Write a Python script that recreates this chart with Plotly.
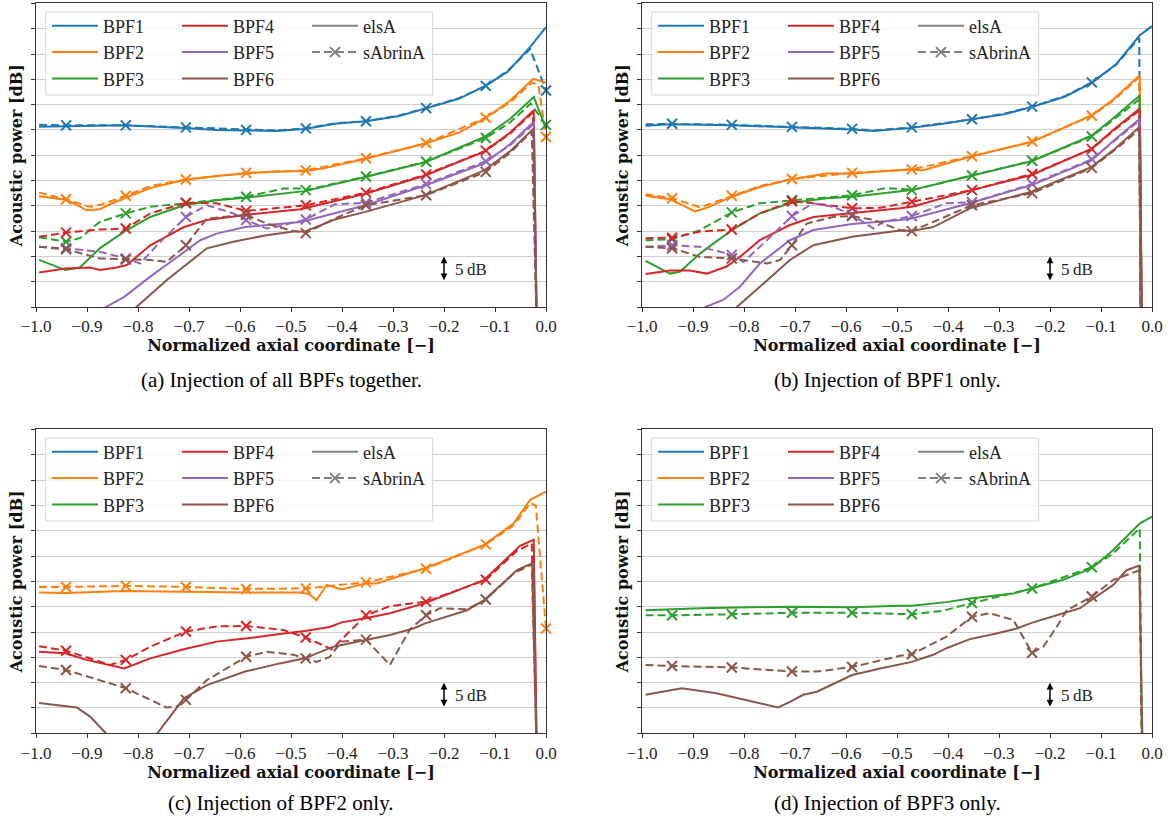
import plotly.graph_objects as go

W, H = 1171, 824

# ---------------- data (x: normalized axial coordinate, y: acoustic power, dB, arbitrary offset) -------------
MARK_X = [-0.941, -0.824, -0.706, -0.588, -0.471, -0.353, -0.235, -0.118, 0.0]
X_TICKS = [-1.0, -0.9, -0.8, -0.7, -0.6, -0.5, -0.4, -0.3, -0.2, -0.1, 0.0]
X_TICK_TEXT = ["\u22121.0", "\u22120.9", "\u22120.8", "\u22120.7", "\u22120.6", "\u22120.5",
               "\u22120.4", "\u22120.3", "\u22120.2", "\u22120.1", "0.0"]
Y_TICKS = [0, 5, 10, 15, 20, 25, 30, 35, 40, 45, 50, 55, 60]

# (a) Injection of all BPFs together
A_BPF1_ELSA = [(-0.994, 35.6), (-0.942, 35.7), (-0.827, 35.9), (-0.71, 35.4), (-0.646, 35.0), (-0.59, 34.9),
               (-0.53, 34.8), (-0.473, 35.2), (-0.414, 36.2), (-0.354, 36.7), (-0.29, 37.7), (-0.237, 39.2),
               (-0.17, 41.2), (-0.121, 43.6), (-0.075, 46.5), (-0.031, 51.4), (0.0, 55.3)]
A_BPF1_SAB = [(-0.994, 36.0), (-0.941, 35.9), (-0.824, 35.9), (-0.706, 35.5), (-0.588, 35.0), (-0.53, 34.9),
              (-0.471, 35.3), (-0.414, 36.3), (-0.353, 36.7), (-0.29, 37.8), (-0.235, 39.3), (-0.17, 41.3),
              (-0.118, 43.7), (-0.075, 46.7), (-0.031, 51.0), (0.0, 42.8)]
A_BPF2_ELSA = [(-0.994, 21.9), (-0.942, 21.2), (-0.92, 20.2), (-0.901, 19.1), (-0.875, 19.3), (-0.855, 20.3),
               (-0.827, 21.5), (-0.776, 23.5), (-0.71, 25.1), (-0.646, 25.9), (-0.59, 26.4), (-0.53, 26.8),
               (-0.473, 26.9), (-0.44, 27.3), (-0.354, 29.3), (-0.237, 32.3), (-0.17, 34.5), (-0.121, 37.2),
               (-0.07, 40.8), (-0.025, 45.1), (0.0, 44.3)]
A_BPF2_SAB = [(-0.994, 22.6), (-0.941, 21.3), (-0.894, 19.8), (-0.87, 20.3), (-0.824, 22.0), (-0.776, 23.9),
              (-0.706, 25.2), (-0.588, 26.5), (-0.471, 27.0), (-0.353, 29.4), (-0.235, 32.4), (-0.118, 37.4),
              (-0.07, 40.5), (-0.028, 44.3), (-0.015, 44.0), (0.0, 33.6)]
A_BPF3_ELSA = [(-0.994, 9.3), (-0.942, 7.3), (-0.914, 7.8), (-0.875, 11.6), (-0.827, 14.9), (-0.776, 17.8),
               (-0.71, 20.1), (-0.646, 21.1), (-0.59, 21.6), (-0.53, 22.2), (-0.473, 22.9), (-0.354, 25.7),
               (-0.237, 28.6), (-0.121, 33.6), (-0.07, 37.2), (-0.024, 41.5), (0.0, 35.3)]
A_BPF3_SAB = [(-0.994, 13.8), (-0.941, 12.9), (-0.914, 13.6), (-0.875, 16.8), (-0.824, 18.5), (-0.776, 19.8),
              (-0.706, 20.5), (-0.646, 21.1), (-0.588, 21.8), (-0.515, 23.4), (-0.482, 23.4), (-0.471, 23.1),
              (-0.353, 25.8), (-0.235, 28.7), (-0.118, 33.4), (-0.07, 36.5), (-0.03, 40.2), (0.0, 36.0)]
A_BPF4_ELSA = [(-0.994, 6.8), (-0.942, 7.6), (-0.894, 7.8), (-0.875, 7.3), (-0.842, 7.8), (-0.822, 8.3),
               (-0.776, 12.2), (-0.71, 15.8), (-0.665, 17.2), (-0.59, 18.2), (-0.482, 19.3), (-0.473, 19.5),
               (-0.354, 22.4), (-0.237, 26.0), (-0.121, 30.7), (-0.07, 34.5), (-0.024, 38.9), (-0.018, -5.0)]
A_BPF4_SAB = [(-0.994, 13.9), (-0.941, 14.7), (-0.875, 15.3), (-0.824, 15.5), (-0.776, 18.5), (-0.706, 20.6),
              (-0.646, 20.5), (-0.588, 19.0), (-0.522, 19.6), (-0.471, 20.1), (-0.353, 22.6), (-0.235, 26.2),
              (-0.118, 30.9), (-0.07, 34.3), (-0.026, 38.4), (-0.018, -5.0)]
A_BPF5_ELSA = [(-0.88, -1.5), (-0.863, 0.0), (-0.827, 2.0), (-0.776, 6.0), (-0.731, 9.3), (-0.678, 13.2),
               (-0.646, 14.5), (-0.59, 15.8), (-0.482, 16.8), (-0.473, 17.0), (-0.354, 20.1), (-0.237, 24.0),
               (-0.121, 28.4), (-0.07, 32.2), (-0.024, 36.6), (-0.018, -5.0)]
A_BPF5_SAB = [(-0.994, 11.9), (-0.941, 11.6), (-0.875, 10.9), (-0.824, 9.6), (-0.796, 8.6), (-0.76, 12.5),
              (-0.706, 17.8), (-0.665, 20.1), (-0.613, 18.5), (-0.588, 17.2), (-0.548, 15.5), (-0.522, 16.0),
              (-0.471, 17.3), (-0.414, 20.3), (-0.353, 20.6), (-0.235, 24.3), (-0.118, 28.8), (-0.07, 32.0),
              (-0.026, 36.0), (-0.018, -5.0)]
A_BPF6_ELSA = [(-0.815, -1.5), (-0.803, 0.0), (-0.744, 5.3), (-0.71, 8.0), (-0.665, 11.6), (-0.613, 12.9),
               (-0.548, 14.2), (-0.495, 14.9), (-0.473, 14.9), (-0.414, 17.3), (-0.354, 18.8), (-0.237, 22.1),
               (-0.121, 27.0), (-0.07, 30.8), (-0.024, 35.3), (-0.018, -5.0)]
A_BPF6_SAB = [(-0.994, 11.9), (-0.941, 11.4), (-0.875, 9.6), (-0.824, 9.4), (-0.776, 9.3), (-0.744, 8.9),
              (-0.706, 12.2), (-0.665, 17.5), (-0.588, 18.2), (-0.548, 16.5), (-0.502, 15.2), (-0.471, 14.6),
              (-0.414, 17.5), (-0.353, 20.1), (-0.235, 22.1), (-0.118, 26.7), (-0.07, 30.5), (-0.028, 34.7),
              (-0.018, -5.0)]

# (b) Injection of BPF1 only
B_BPF1_ELSA = [(-0.993, 35.8), (-0.945, 36.1), (-0.824, 35.9), (-0.71, 35.5), (-0.588, 35.1), (-0.546, 34.8),
               (-0.471, 35.4), (-0.41, 36.2), (-0.357, 37.0), (-0.29, 38.1), (-0.236, 39.5), (-0.17, 41.6),
               (-0.118, 44.3), (-0.07, 48.0), (-0.024, 53.7), (0.0, 55.5)]
B_BPF1_SAB = [(-0.993, 36.1), (-0.941, 36.2), (-0.824, 36.0), (-0.706, 35.6), (-0.588, 35.2), (-0.546, 34.9),
              (-0.471, 35.5), (-0.41, 36.3), (-0.353, 37.1), (-0.29, 38.2), (-0.235, 39.6), (-0.17, 41.7),
              (-0.118, 44.4), (-0.07, 47.9), (-0.025, 53.2), (-0.022, -5.0)]
B_BPF2_ELSA = [(-0.993, 22.0), (-0.945, 21.3), (-0.896, 18.9), (-0.873, 19.6), (-0.824, 21.8), (-0.769, 23.7),
               (-0.71, 25.2), (-0.638, 26.4), (-0.588, 26.4), (-0.494, 27.0), (-0.471, 27.2), (-0.45, 27.0),
               (-0.357, 29.7), (-0.236, 32.6), (-0.118, 37.9), (-0.076, 41.0), (-0.024, 45.8), (-0.02, -5.0)]
B_BPF2_SAB = [(-0.993, 22.3), (-0.941, 21.5), (-0.886, 19.7), (-0.824, 22.0), (-0.769, 23.9), (-0.706, 25.3),
              (-0.588, 26.5), (-0.471, 27.2), (-0.353, 29.8), (-0.235, 32.7), (-0.118, 37.8), (-0.076, 40.8),
              (-0.025, 45.4), (-0.022, -5.0)]
B_BPF3_ELSA = [(-0.993, 9.1), (-0.945, 6.6), (-0.925, 7.0), (-0.886, 10.6), (-0.824, 15.2), (-0.769, 18.5),
               (-0.71, 20.5), (-0.638, 21.5), (-0.588, 21.8), (-0.494, 22.8), (-0.471, 23.1), (-0.357, 25.9),
               (-0.236, 28.8), (-0.118, 33.9), (-0.076, 37.3), (-0.024, 41.8), (-0.02, -5.0)]
B_BPF3_SAB = [(-0.993, 13.2), (-0.941, 13.4), (-0.886, 15.2), (-0.824, 18.7), (-0.769, 20.5), (-0.706, 21.1),
              (-0.588, 22.1), (-0.527, 23.4), (-0.494, 23.4), (-0.471, 23.1), (-0.353, 26.0), (-0.235, 28.9),
              (-0.118, 33.7), (-0.076, 37.0), (-0.025, 41.0), (-0.022, -5.0)]
B_BPF4_ELSA = [(-0.993, 6.5), (-0.945, 7.2), (-0.906, 7.2), (-0.873, 6.6), (-0.834, 8.0), (-0.808, 9.9),
               (-0.769, 13.2), (-0.71, 16.2), (-0.664, 17.8), (-0.588, 18.5), (-0.494, 19.5), (-0.471, 19.8),
               (-0.357, 23.0), (-0.236, 26.1), (-0.118, 31.3), (-0.076, 35.0), (-0.024, 39.2), (-0.02, -5.0)]
B_BPF4_SAB = [(-0.993, 13.6), (-0.941, 13.7), (-0.886, 14.9), (-0.824, 15.3), (-0.769, 18.5), (-0.706, 20.9),
              (-0.664, 20.5), (-0.588, 19.5), (-0.533, 19.6), (-0.471, 20.8), (-0.403, 22.0), (-0.353, 23.1),
              (-0.235, 26.3), (-0.118, 31.2), (-0.076, 34.8), (-0.025, 38.8), (-0.022, -5.0)]
B_BPF5_ELSA = [(-0.89, -1.5), (-0.876, 0.0), (-0.841, 1.4), (-0.808, 4.0), (-0.769, 8.6), (-0.71, 13.2),
               (-0.664, 15.2), (-0.588, 16.4), (-0.494, 17.2), (-0.471, 17.5), (-0.357, 20.5), (-0.236, 24.1),
               (-0.118, 29.0), (-0.076, 32.8), (-0.024, 37.2), (-0.02, -5.0)]
B_BPF5_SAB = [(-0.993, 11.9), (-0.941, 12.2), (-0.886, 11.9), (-0.824, 10.3), (-0.801, 8.9), (-0.755, 13.2),
              (-0.706, 18.0), (-0.664, 20.5), (-0.625, 19.8), (-0.588, 18.2), (-0.546, 15.5), (-0.527, 16.8),
              (-0.471, 18.0), (-0.403, 20.5), (-0.353, 20.7), (-0.235, 24.3), (-0.118, 29.2), (-0.076, 32.6),
              (-0.025, 36.8), (-0.022, -5.0)]
B_BPF6_ELSA = [(-0.826, -1.5), (-0.814, 0.0), (-0.769, 4.0), (-0.71, 9.3), (-0.664, 12.2), (-0.588, 13.9),
               (-0.494, 15.1), (-0.471, 15.0), (-0.429, 15.8), (-0.357, 19.5), (-0.236, 22.8), (-0.118, 27.7),
               (-0.076, 31.0), (-0.024, 35.6), (-0.02, -5.0)]
B_BPF6_SAB = [(-0.993, 11.9), (-0.941, 11.6), (-0.886, 9.9), (-0.824, 9.6), (-0.755, 8.6), (-0.729, 9.3),
              (-0.706, 12.2), (-0.677, 16.5), (-0.625, 17.8), (-0.588, 18.0), (-0.546, 17.2), (-0.494, 15.2),
              (-0.471, 15.0), (-0.353, 20.1), (-0.235, 22.5), (-0.118, 27.5), (-0.076, 30.8), (-0.025, 35.0),
              (-0.022, -5.0)]

# (c) Injection of BPF2 only
C_BPF2_ELSA = [(-0.994, 27.8), (-0.942, 27.7), (-0.827, 28.1), (-0.71, 27.9), (-0.59, 27.8), (-0.482, 27.8),
               (-0.465, 27.5), (-0.45, 26.3), (-0.43, 29.3), (-0.401, 28.4), (-0.354, 29.6), (-0.332, 29.6),
               (-0.237, 32.6), (-0.121, 37.2), (-0.064, 41.4), (-0.031, 46.1), (0.0, 47.7)]
C_BPF2_SAB = [(-0.994, 28.9), (-0.941, 28.9), (-0.824, 29.1), (-0.706, 28.9), (-0.588, 28.5), (-0.471, 28.6),
              (-0.353, 29.8), (-0.235, 32.5), (-0.118, 37.3), (-0.064, 41.0), (-0.031, 45.4), (-0.02, 45.0),
              (0.0, 20.7)]
C_BPF4_ELSA = [(-0.994, 16.1), (-0.942, 15.8), (-0.901, 14.5), (-0.827, 12.8), (-0.776, 14.8), (-0.71, 16.6),
               (-0.646, 18.1), (-0.59, 18.7), (-0.522, 19.6), (-0.473, 20.2), (-0.424, 21.0), (-0.401, 21.9),
               (-0.354, 22.7), (-0.306, 23.7), (-0.237, 25.7), (-0.121, 30.3), (-0.051, 37.0), (-0.024, 38.2),
               (-0.018, -5.0)]
C_BPF4_SAB = [(-0.994, 17.2), (-0.941, 16.3), (-0.855, 13.5), (-0.824, 14.5), (-0.776, 17.1), (-0.706, 20.1),
              (-0.646, 21.1), (-0.588, 21.2), (-0.515, 20.4), (-0.471, 18.9), (-0.42, 16.6), (-0.353, 23.3),
              (-0.306, 25.1), (-0.235, 26.0), (-0.118, 30.3), (-0.057, 36.0), (-0.028, 37.5), (-0.018, -5.0)]
C_BPF6_ELSA = [(-0.994, 6.0), (-0.942, 5.4), (-0.92, 5.1), (-0.894, 3.3), (-0.863, 0.0), (-0.81, -4.0),
               (-0.762, 0.0), (-0.71, 6.9), (-0.665, 9.5), (-0.59, 12.2), (-0.522, 13.8), (-0.473, 14.8),
               (-0.417, 17.1), (-0.354, 18.4), (-0.306, 19.4), (-0.26, 20.7), (-0.237, 21.7), (-0.155, 24.3),
               (-0.121, 26.3), (-0.057, 32.2), (-0.031, 33.5), (-0.024, 33.7), (-0.018, -5.0)]
C_BPF6_SAB = [(-0.994, 13.3), (-0.941, 12.5), (-0.824, 8.9), (-0.776, 6.6), (-0.744, 5.1), (-0.724, 5.3),
              (-0.706, 6.6), (-0.665, 10.5), (-0.588, 15.1), (-0.548, 16.1), (-0.495, 15.5), (-0.471, 14.8),
              (-0.45, 14.1), (-0.424, 15.1), (-0.401, 18.1), (-0.353, 18.5), (-0.306, 13.5), (-0.267, 20.5),
              (-0.235, 23.3), (-0.208, 24.7), (-0.155, 24.5), (-0.118, 26.4), (-0.064, 31.5), (-0.028, 33.4),
              (-0.018, -5.0)]

# (d) Injection of BPF3 only
D_BPF3_ELSA = [(-0.993, 24.3), (-0.886, 24.7), (-0.71, 25.0), (-0.588, 24.9), (-0.494, 25.2), (-0.471, 25.2),
               (-0.403, 25.9), (-0.357, 26.6), (-0.272, 27.6), (-0.236, 28.6), (-0.174, 30.3), (-0.118, 32.6),
               (-0.076, 36.2), (-0.024, 41.4), (0.0, 42.8)]
D_BPF3_SAB = [(-0.993, 23.3), (-0.941, 23.3), (-0.824, 23.5), (-0.706, 23.8), (-0.588, 23.8), (-0.494, 23.5),
              (-0.471, 23.5), (-0.41, 24.2), (-0.353, 25.7), (-0.235, 28.6), (-0.118, 32.8), (-0.076, 35.5),
              (-0.024, 40.5), (-0.02, -5.0)]
D_BPF6_ELSA = [(-0.993, 7.6), (-0.922, 8.9), (-0.854, 7.9), (-0.782, 6.2), (-0.733, 5.1), (-0.71, 6.2),
               (-0.684, 7.6), (-0.657, 8.2), (-0.588, 11.5), (-0.533, 12.8), (-0.471, 14.1), (-0.429, 15.5),
               (-0.403, 16.8), (-0.357, 18.6), (-0.305, 19.7), (-0.265, 20.7), (-0.236, 21.8), (-0.174, 23.7),
               (-0.141, 24.7), (-0.115, 26.6), (-0.076, 29.3), (-0.05, 32.2), (-0.025, 33.1), (-0.018, -5.0)]
D_BPF6_SAB = [(-0.993, 13.5), (-0.941, 13.3), (-0.824, 13.0), (-0.706, 12.2), (-0.657, 12.2), (-0.588, 13.1),
              (-0.494, 15.3), (-0.471, 15.6), (-0.403, 19.1), (-0.353, 23.0), (-0.318, 23.7), (-0.272, 22.4),
              (-0.246, 17.8), (-0.235, 15.9), (-0.213, 17.1), (-0.187, 21.0), (-0.167, 24.3), (-0.118, 27.0),
              (-0.076, 30.3), (-0.024, 32.2), (-0.02, -5.0)]

# ---------------- styling -------------------------------------------------------------------------------
COLORS = {"BPF1": "#1f77b4", "BPF2": "#ff7f0e", "BPF3": "#2ca02c",
          "BPF4": "#d62728", "BPF5": "#9467bd", "BPF6": "#8c564b"}
GRAY = "#7f7f7f"
DASH = "8px,4px"
SERIF = "'Liberation Serif', 'Times New Roman', Times, serif"
BOLD = "'DejaVu Serif', 'Liberation Serif', serif"
AX = "#333333"


def px_x(p):
    return p / W


def px_y(p):
    return 1 - p / H


PANELS = [
    dict(L=36, T=3.4, R=546, B=307, xa="x", ya="y", cap="(a) Injection of all BPFs together.", cx=281, cy=380,
         series=[("BPF1", A_BPF1_ELSA, A_BPF1_SAB), ("BPF2", A_BPF2_ELSA, A_BPF2_SAB),
                 ("BPF3", A_BPF3_ELSA, A_BPF3_SAB), ("BPF4", A_BPF4_ELSA, A_BPF4_SAB),
                 ("BPF5", A_BPF5_ELSA, A_BPF5_SAB), ("BPF6", A_BPF6_ELSA, A_BPF6_SAB)]),
    dict(L=642, T=3.4, R=1152, B=307, xa="x2", ya="y2", cap="(b) Injection of BPF1 only.", cx=887, cy=380,
         series=[("BPF1", B_BPF1_ELSA, B_BPF1_SAB), ("BPF2", B_BPF2_ELSA, B_BPF2_SAB),
                 ("BPF3", B_BPF3_ELSA, B_BPF3_SAB), ("BPF4", B_BPF4_ELSA, B_BPF4_SAB),
                 ("BPF5", B_BPF5_ELSA, B_BPF5_SAB), ("BPF6", B_BPF6_ELSA, B_BPF6_SAB)]),
    dict(L=36, T=429.4, R=546, B=733.3, xa="x3", ya="y3", cap="(c) Injection of BPF2 only.", cx=281, cy=803,
         series=[("BPF2", C_BPF2_ELSA, C_BPF2_SAB), ("BPF4", C_BPF4_ELSA, C_BPF4_SAB),
                 ("BPF6", C_BPF6_ELSA, C_BPF6_SAB)]),
    dict(L=642, T=429.4, R=1152, B=733.3, xa="x4", ya="y4", cap="(d) Injection of BPF3 only.", cx=887, cy=803,
         series=[("BPF3", D_BPF3_ELSA, D_BPF3_SAB), ("BPF6", D_BPF6_ELSA, D_BPF6_SAB)]),
]

LEG_COLS = [["BPF1", "BPF2", "BPF3"], ["BPF4", "BPF5", "BPF6"], ["elsA", "sAbrinA"]]

fig = go.Figure()
layout = dict(width=W, height=H, margin=dict(l=0, r=0, t=0, b=0), paper_bgcolor="white",
              plot_bgcolor="white", showlegend=True, annotations=[], shapes=[])


def is_mark(x):
    return any(abs(x - m) < 1e-9 for m in MARK_X)


for i, p in enumerate(PANELS):
    xa, ya = p["xa"], p["ya"]
    for name, elsa, sab in p["series"]:
        c = COLORS[name]
        fig.add_trace(go.Scatter(x=[q[0] for q in elsa], y=[q[1] for q in elsa], mode="lines",
                                 line=dict(color=c, width=2), showlegend=False, hoverinfo="skip",
                                 xaxis=xa, yaxis=ya))
        fig.add_trace(go.Scatter(x=[q[0] for q in sab], y=[q[1] for q in sab], mode="lines",
                                 line=dict(color=c, width=2, dash=DASH), showlegend=False, hoverinfo="skip",
                                 xaxis=xa, yaxis=ya))
        mk = [q for q in sab if is_mark(q[0])]
        fig.add_trace(go.Scatter(x=[q[0] for q in mk], y=[q[1] for q in mk], mode="markers",
                                 marker=dict(symbol="x-thin", size=10, color=c, line=dict(width=2, color=c)),
                                 showlegend=False, hoverinfo="skip", cliponaxis=False, xaxis=xa, yaxis=ya))

    # legends: three columns
    for j, col in enumerate(LEG_COLS):
        n = i * 3 + j + 1
        lkey = "legend" if n == 1 else "legend%d" % n
        for name in col:
            if name in COLORS:
                tr = go.Scatter(x=[None], y=[None], mode="lines", name=name,
                                line=dict(color=COLORS[name], width=2))
            elif name == "elsA":
                tr = go.Scatter(x=[None], y=[None], mode="lines", name=name, line=dict(color=GRAY, width=2))
            else:
                tr = go.Scatter(x=[None], y=[None], mode="lines+markers", name=name,
                                line=dict(color=GRAY, width=2, dash=DASH),
                                marker=dict(symbol="x-thin", size=10, color=GRAY, line=dict(width=2, color=GRAY)))
            tr.update(legend=lkey, showlegend=True, xaxis=xa, yaxis=ya, hoverinfo="skip")
            fig.add_trace(tr)
        layout[lkey] = dict(x=px_x(p["L"] + 11 + 130 * j), y=px_y(p["T"] + 4.1), xanchor="left", yanchor="top",
                            xref="paper", yref="paper", bgcolor="rgba(0,0,0,0)", borderwidth=0,
                            itemwidth=46, tracegroupgap=0,
                            font=dict(family=SERIF, size=18, color="#222222"))

    # legend frame
    layout["shapes"].append(dict(type="rect", xref="paper", yref="paper",
                                 x0=px_x(p["L"] + 9.7), x1=px_x(p["L"] + 396.7),
                                 y0=px_y(p["T"] + 8.6), y1=px_y(p["T"] + 91.6),
                                 line=dict(color="#d6d6d6", width=1), fillcolor="rgba(255,255,255,0.8)",
                                 layer="above"))

    # axes
    sfx = "" if i == 0 else str(i + 1)
    layout["xaxis" + sfx] = dict(domain=[px_x(p["L"]), px_x(p["R"])], anchor=ya, range=[-1.0, 0.0],
                                 tickmode="array", tickvals=X_TICKS, ticktext=X_TICK_TEXT,
                                 ticks="outside", ticklen=4, tickwidth=1, tickcolor=AX,
                                 showline=True, linecolor=AX, linewidth=1, mirror=True,
                                 showgrid=False, zeroline=False, automargin=False,
                                 tickfont=dict(family=SERIF, size=17, color="#222222"),
                                 title=dict(text="Normalized axial coordinate [\u2212]", standoff=3,
                                            font=dict(family=BOLD, size=16, color="#111111", weight="bold")))
    layout["yaxis" + sfx] = dict(domain=[px_y(p["B"]), px_y(p["T"])], anchor=xa, range=[0, 60],
                                 tickmode="array", tickvals=Y_TICKS, showticklabels=False,
                                 ticks="outside", ticklen=4, tickwidth=1, tickcolor=AX,
                                 showline=True, linecolor=AX, linewidth=1, mirror=True,
                                 showgrid=True, gridcolor="#cfcfcf", gridwidth=1, zeroline=False,
                                 automargin=False,
                                 title=dict(text="Acoustic power [dB]", standoff=4,
                                            font=dict(family=BOLD, size=16, color="#111111", weight="bold")))

    # 5 dB scale marker
    layout["annotations"].append(dict(x=-0.2, y=10, ax=-0.2, ay=5, xref=xa, yref=ya, axref=xa, ayref=ya,
                                      text="", showarrow=True, arrowhead=2, startarrowhead=2,
                                      arrowside="end+start", arrowsize=0.9, arrowwidth=1.5,
                                      arrowcolor="black", standoff=0, startstandoff=0))
    layout["annotations"].append(dict(x=-0.182, y=7.5, xref=xa, yref=ya, text="5\u2009dB", showarrow=False,
                                      xanchor="left", yanchor="middle",
                                      font=dict(family=SERIF, size=17, color="#222222")))
    # caption
    layout["annotations"].append(dict(x=px_x(p["cx"]), y=px_y(p["cy"]), xref="paper", yref="paper",
                                      text=p["cap"], showarrow=False, xanchor="center", yanchor="middle",
                                      font=dict(family=SERIF, size=21, color="black")))

fig.update_layout(**layout)
fig.write_html("out.html")
